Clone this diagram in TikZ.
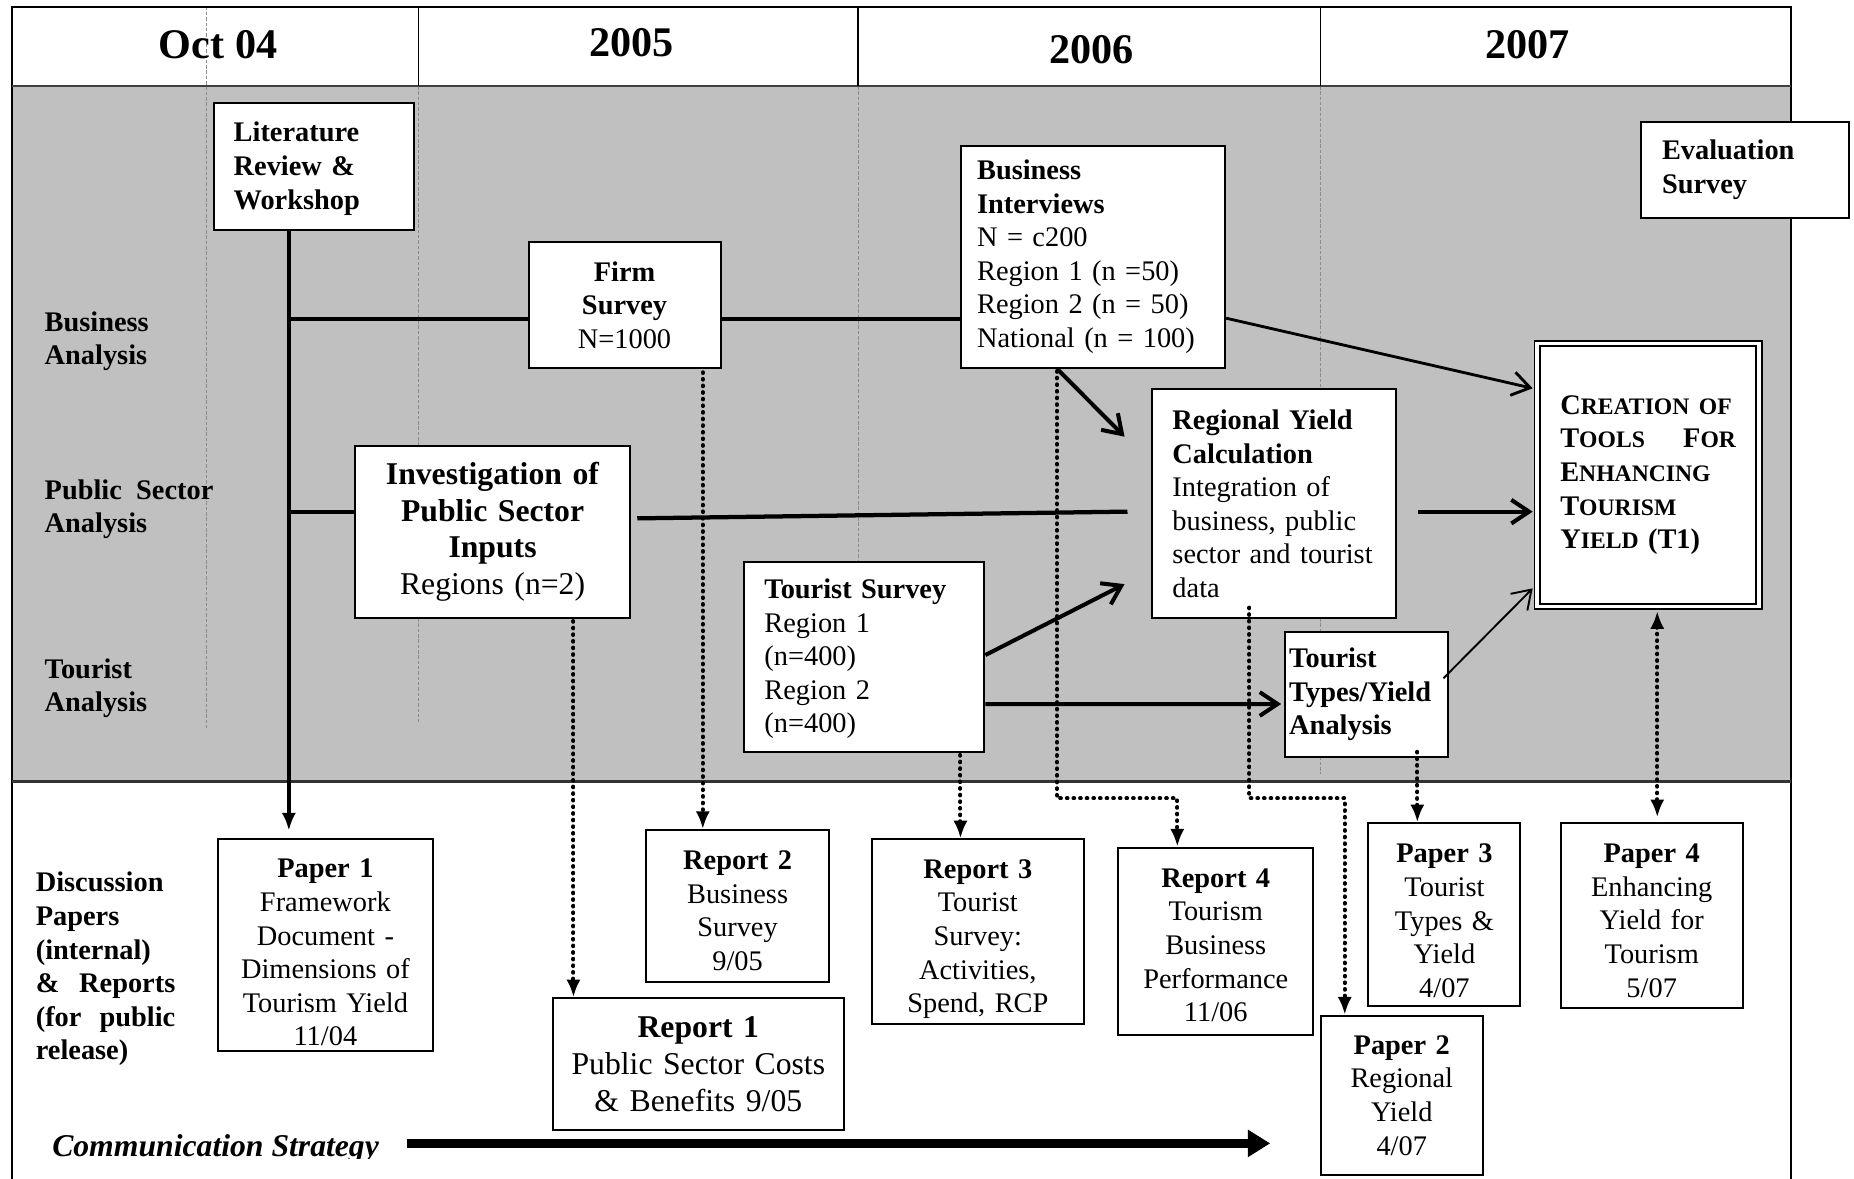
\documentclass[tikz,border=0pt]{standalone}
\usepackage{fontspec}
\setmainfont{Liberation Serif}
\usepackage{tikz}
\usetikzlibrary{arrows.meta,calc}
\definecolor{panelgray}{HTML}{C0C0C0}
\newcommand{\bodyfont}{\fontsize{24}{28.4}\selectfont}
\newcommand{\bigfont}{\fontsize{26.8}{31}\selectfont}
\newcommand{\yearfont}{\fontsize{35.7}{40}\selectfont\bfseries}
\newcommand{\smc}[2]{#1{\fontsize{20}{28.4}\selectfont #2}}
\newcommand{\lift}[1]{\rule{0pt}{#1}}

\begin{document}
\begin{tikzpicture}[x=1pt,y=-1pt,
  >={Latex[length=15pt,width=12pt]},
  box/.style={draw,line width=1.7pt,fill=white,align=center,font=\bodyfont,inner xsep=2pt,inner ysep=2pt},
  lbox/.style={box,align=left,inner xsep=#1},
  year/.style={font=\yearfont},
  lane/.style={align=left,anchor=west,inner sep=0pt,font=\bodyfont\bfseries},
  guide/.style={black!45,line width=0.7pt,dash pattern=on 3pt off 1.5pt},
  link/.style={line width=3.6pt},
  arr/.style={line width=3.4pt,-{Straight Barb[length=15pt,width=20pt]}},
  dotline/.style={line width=3.4pt,line cap=round,dash pattern=on 0.6pt off 5pt},
  dotarr/.style={dotline,->}]
  \useasboundingbox (0,0) rectangle (1568,996.3);
  \fill[panelgray] (10.1,72.7) rectangle (1514.5,661);
  \draw[guide] (174.8,5.6) -- (174.8,616);
  \draw[guide] (354.1,72.7) -- (354.1,611);
  \draw[guide] (725.8,72.7) -- (725.8,611);
  \draw[guide] (1117,72.7) -- (1117,655);
  \draw[line width=1.6pt] (10.1,1000) -- (10.1,5.6) -- (1514.5,5.6) -- (1514.5,1000);
  \draw[line width=2pt,black!75] (10.1,72.7) -- (1514.5,72.7);
  \draw[line width=2pt,black!80] (10.1,661) -- (1514.5,661);
  \foreach \x in {354.1,725.8,1117} \draw[line width=1.2pt] (\x,5.6) -- (\x,72.7);

  \node[year] (y04) at (184.4,37.4) {Oct 04};
  \node[year] (y05) at (534,36.4) {2005};
  \node[year] (y06) at (922.9,41.6) {2006};
  \node[year] (y07) at (1291.8,37.4) {2007};

  \node[lane] (lbus) at (37.6,288.4) {Business\\Analysis};
  \node[lane] (lpub) at (37.6,430.7) {Public\ \ Sector\\Analysis};
  \node[lane] (ltour) at (37.6,582.2) {Tourist\\Analysis};
  \node[lane,text width=118pt] (ldisc) at (30.1,819.5) {Discussion\\Papers\\(internal)\\\&\hfill Reports\\(for\hfill public\\release)};
  \begin{scope}
    \clip (30,930) rectangle (340,979.5);
    \node[anchor=base west,inner sep=0pt,font=\bigfont\bfseries\itshape] (comm) at (44,978) {Communication Strategy};
  \end{scope}

  \node[lbox=17pt,text width=135.5pt,minimum height=107pt,font=\bodyfont\bfseries] (lit) at (265.4,141) {\lift{20pt}Literature\\Review \&\\Workshop};
  \node[box,text width=158.4pt,minimum height=106pt] (firm) at (528.2,258) {\textbf{Firm}\\\textbf{Survey}\\N=1000};
  \node[lbox=14pt,text width=195.7pt,minimum height=187.8pt] (bint) at (924.2,217.1) {\textbf{Business}\\\textbf{Interviews}\\N = c200\\Region 1 (n =50)\\Region 2 (n = 50)\\National (n = 100)};
  \node[lbox=18pt,text width=140.2pt,minimum height=81.7pt,font=\bodyfont\bfseries] (eval) at (1475.7,143.7) {Evaluation\\Survey};
  \node[box,text width=229pt,minimum height=145.2pt,font=\bigfont] (inv) at (416.6,449.8) {\textbf{Investigation of}\\\textbf{Public Sector}\\\textbf{Inputs}\\Regions (n=2)};
  \node[lbox=17pt,text width=172.4pt,minimum height=194pt] (ryc) at (1077.8,426) {\textbf{Regional Yield}\\\textbf{Calculation}\\Integration of\\business, public\\sector and tourist\\data};
  \node[lbox=19.5pt,text width=148.6pt,minimum height=222.3pt,double,double distance=3pt,line width=1.55pt,font=\bodyfont\bfseries] (tools) at (1393.9,401.8) {\smc{C}{REATION OF}\\\smc{T}{OOLS}\hfill\smc{F}{OR}\\\smc{E}{NHANCING}\\\smc{T}{OURISM}\\\smc{Y}{IELD} (T1)};
  \node[lbox=17pt,text width=169pt,minimum height=160.1pt] (tsur) at (731,555.6) {\lift{20pt}\textbf{Tourist Survey}\\Region 1\\(n=400)\\Region 2\\(n=400)};
  \node[lbox=4pt,text width=130.5pt,minimum height=106.3pt,font=\bodyfont\bfseries] (ttyp) at (1155.6,587.4) {Tourist\\Types/Yield\\Analysis};

  \node[box,text width=178pt,minimum height=178.7pt] (p1) at (275.2,799.3) {\lift{28.5pt}\textbf{Paper 1}\\Framework\\Document -\\Dimensions of\\Tourism Yield\\11/04};
  \node[box,text width=151pt,minimum height=128.8pt] (r2) at (623.8,766.4) {\lift{23.5pt}\textbf{Report 2}\\Business\\Survey\\9/05};
  \node[box,text width=242.3pt,minimum height=111.4pt,font=\bigfont] (r1) at (590.6,900) {\textbf{Report 1}\\Public Sector Costs\\\& Benefits 9/05};
  \node[box,text width=175.2pt,minimum height=156.1pt] (r3) at (827,788) {\lift{28.5pt}\textbf{Report 3}\\Tourist\\Survey:\\Activities,\\Spend, RCP};
  \node[box,text width=160.7pt,minimum height=158.4pt] (r4) at (1028.2,796.1) {\lift{22.5pt}\textbf{Report 4}\\Tourism\\Business\\Performance\\11/06};
  \node[box,text width=124.5pt,minimum height=154.2pt] (p3) at (1221.6,773.4) {\lift{26.5pt}\textbf{Paper 3}\\Tourist\\Types \&\\Yield\\4/07};
  \node[box,text width=149.6pt,minimum height=155.9pt] (p4) at (1396.9,774.3) {\lift{24.5pt}\textbf{Paper 4}\\Enhancing\\Yield for\\Tourism\\5/07};
  \node[box,text width=133pt,minimum height=134.8pt] (p2) at (1185.5,926.4) {\textbf{Paper 2}\\Regional\\Yield\\4/07};

  \coordinate (litx) at ([xshift=-21.1pt]lit.south);
  \coordinate (firmw) at ([yshift=-12pt]firm.west);
  \coordinate (invw) at ([yshift=17.1pt]inv.west);
  \draw[link,->,shorten >=6.6pt] (litx) -- (litx |- p1.north);
  \draw[link] (litx |- firmw) -- (firmw);
  \draw[link] (firm.east |- firmw) -- (bint.west |- firmw);
  \draw[link] (litx |- invw) -- (invw);
  \draw[link] ([xshift=5pt,yshift=11.4pt]inv.east) -- ([xshift=-20.2pt,yshift=-6.7pt]ryc.west);

  \coordinate (bintd) at ([xshift=-30.2pt]bint.south);
  \draw[arr] (bintd) -- ([xshift=-22.7pt,yshift=56.7pt]ryc.west);
  \draw[arr,line width=2.4pt] ([yshift=-52pt]bint.east) -- ([xshift=-3.1pt,yshift=73.4pt]tools.west);
  \draw[arr] ([xshift=17.7pt,yshift=-6.7pt]ryc.east) -- ([xshift=-3.1pt,yshift=-30.9pt]tools.west);
  \draw[arr] ([yshift=1.6pt]tsur.east) -- ([xshift=-22.7pt,yshift=-68pt]ryc.west);
  \draw[arr] ([yshift=-39.8pt]tsur.east) -- ([xshift=-2pt,yshift=-8pt]ttyp.west);
  \draw[arr,line width=1.6pt] ([xshift=-5pt,yshift=13.7pt]ttyp.east) -- ([xshift=-3.1pt,yshift=-95.8pt]tools.west);

  \coordinate (lvl) at (0,675.2);
  \coordinate (toolsd) at ([xshift=7.7pt,yshift=-3.1pt]tools.south);
  \coordinate (firmd) at ([xshift=66.2pt,yshift=-3pt]firm.south);
  \coordinate (invd) at ([xshift=68.4pt,yshift=-2pt]inv.south);
  \coordinate (tsurd) at ([xshift=81.3pt,yshift=-2pt]tsur.south);
  \coordinate (rycd) at ([xshift=-21.1pt,yshift=10pt]ryc.south);
  \coordinate (ttypd) at ([xshift=43.1pt,yshift=5.6pt]ttyp.south);
  \coordinate (r4n) at ([xshift=-32.5pt]r4.north);
  \coordinate (p2n) at ([xshift=-48.2pt]p2.north);
  \draw[dotline,<->,shorten >=4.3pt] (toolsd) -- (toolsd |- p4.north);
  \draw[dotarr] (firmd) -- (firmd |- r2.north);
  \draw[dotarr] (invd) -- (invd |- r1.north);
  \draw[dotarr] (tsurd) -- (tsurd |- r3.north);
  \draw[dotarr] ([yshift=-2pt]bintd) -- (bintd |- lvl) -- (r4n |- lvl) -- (r4n);
  \draw[dotarr] (rycd) -- (rycd |- lvl) -- (p2n |- lvl) -- (p2n);
  \draw[dotarr] (ttypd) -- (ttypd |- p3.north);

  \coordinate (commend) at (1074.3,967);
  \draw[line width=7pt,-{Triangle[length=19pt,width=22pt]}] ($(comm.east |- commend)+(24,0)$) -- (commend);
\end{tikzpicture}
\end{document}
